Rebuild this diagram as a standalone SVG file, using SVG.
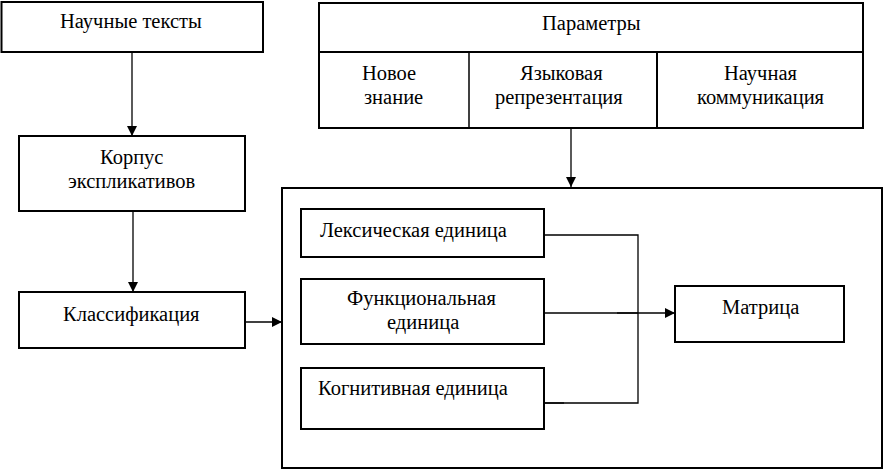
<svg xmlns="http://www.w3.org/2000/svg" width="883" height="471" viewBox="0 0 883 471">
<style>
.box{fill:#fff;stroke:#000;stroke-width:2}
.c{fill:none;stroke:#000;stroke-width:1.3}
</style>
<defs>
<marker id="ah" markerWidth="10" markerHeight="10" refX="10" refY="5" orient="auto" markerUnits="userSpaceOnUse">
<path d="M0,0 L10,5 L0,10 Z" fill="#000"/>
</marker>
</defs>
<rect width="883" height="471" fill="#fff"/>
<g id="big-frame"><rect class="box" x="282" y="188" width="600" height="280"/></g>
<g id="nauchnye-teksty"><rect class="box" x="1.5" y="2" width="261.5" height="50" stroke-width="2.6"/><text x="60" y="28" font-family="Liberation Serif" font-size="20.5">Научные тексты</text></g>
<g id="korpus"><rect class="box" x="19" y="136" width="226" height="75"/><text x="100" y="164" font-family="Liberation Serif" font-size="20.5">Корпус</text><text x="68" y="188" font-family="Liberation Serif" font-size="20.5">экспликативов</text></g>
<g id="klassifikatsiya"><rect class="box" x="19" y="292" width="226" height="56"/><text x="63" y="321" font-family="Liberation Serif" font-size="20.5">Классификация</text></g>
<g id="parametry"><rect class="box" x="319" y="3" width="544" height="125"/><line x1="319" y1="52" x2="863" y2="52" stroke="#000" stroke-width="2"/><line x1="469" y1="52" x2="469" y2="128" stroke="#000" stroke-width="1.5"/><line x1="657" y1="52" x2="657" y2="128" stroke="#000" stroke-width="2"/><text x="542" y="30" font-family="Liberation Serif" font-size="20.5">Параметры</text>
<text x="362" y="80" font-family="Liberation Serif" font-size="20.5">Новое</text><text x="364" y="104" font-family="Liberation Serif" font-size="20.5">знание</text>
<text x="520" y="80" font-family="Liberation Serif" font-size="20.5">Языковая</text><text x="495" y="104" font-family="Liberation Serif" font-size="20.5">репрезентация</text>
<text x="724" y="80" font-family="Liberation Serif" font-size="20.5">Научная</text><text x="697" y="104" font-family="Liberation Serif" font-size="20.5">коммуникация</text></g>
<g id="leksicheskaya"><rect class="box" x="301" y="209" width="243" height="48"/><text x="320" y="237" font-family="Liberation Serif" font-size="20.5">Лексическая единица</text></g>
<g id="funktsionalnaya"><rect class="box" x="301" y="279" width="243" height="65"/><text x="347" y="305" font-family="Liberation Serif" font-size="20.5">Функциональная</text><text x="387" y="329" font-family="Liberation Serif" font-size="20.5">единица</text></g>
<g id="kognitivnaya"><rect class="box" x="301" y="368" width="243" height="61"/><text x="318" y="395" font-family="Liberation Serif" font-size="20.5">Когнитивная единица</text></g>
<g id="matritsa"><rect class="box" x="675" y="286" width="169" height="56"/><text x="722" y="314" font-family="Liberation Serif" font-size="20.5">Матрица</text></g>
<g id="connectors">
<line class="c" x1="132" y1="52" x2="132" y2="136" marker-end="url(#ah)"/>
<line class="c" x1="133" y1="211" x2="133" y2="292" marker-end="url(#ah)"/>
<line class="c" x1="245" y1="322" x2="282" y2="322" marker-end="url(#ah)"/>
<line class="c" x1="571" y1="128" x2="571" y2="187" stroke-width="2" marker-end="url(#ah)"/>
<polyline class="c" points="544,235 638,235 638,403 544,403" stroke-width="1.6"/>
<line class="c" x1="544" y1="313" x2="675" y2="313" marker-end="url(#ah)"/>
<line class="c" x1="617" y1="313" x2="638" y2="313" stroke-width="2.2"/>
<line class="c" x1="544" y1="403" x2="564" y2="403" stroke-width="2.4"/>
</g>
</svg>
